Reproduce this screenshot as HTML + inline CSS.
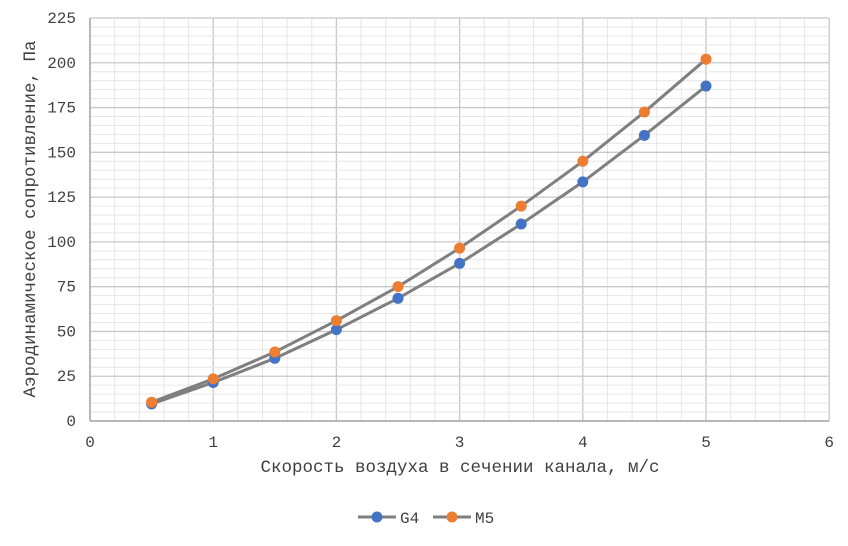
<!DOCTYPE html>
<html><head><meta charset="utf-8"><style>
body{margin:0;background:#fff}
svg text{font-family:"Liberation Mono","DejaVu Sans Mono",monospace;fill:#404040}
</style></head><body>
<svg id="s" width="848" height="541" xmlns="http://www.w3.org/2000/svg"></svg>
<script>
const s=document.getElementById('s');let h='';
const X=v=>90+123.2*v, Y=v=>421-403/225*v;
for(let i=0;i<=30;i++){const x=X(i/5);h+=`<line x1="${x}" y1="18" x2="${x}" y2="421" stroke="${i%5?'#e6e6e6':'#c8c8c8'}" stroke-width="${i%5?1:1.3}"/>`;}
for(let i=0;i<=45;i++){const y=Y(i*5);h+=`<line x1="90" y1="${y}" x2="829" y2="${y}" stroke="${i%5?'#e6e6e6':'#c8c8c8'}" stroke-width="${i%5?1:1.3}"/>`;}
h+=`<line x1="90" y1="18" x2="90" y2="421" stroke="#a6a6a6" stroke-width="1.5"/><line x1="90" y1="421" x2="829" y2="421" stroke="#a6a6a6" stroke-width="1.5"/>`;
for(let i=0;i<=6;i++)h+=`<text x="${X(i)}" y="447" font-size="16" text-anchor="middle">${i}</text>`;
for(let i=0;i<=9;i++)h+=`<text x="76" y="${Y(i*25)+5}" font-size="16" text-anchor="end">${i*25}</text>`;
h+=`<text x="460" y="472" font-size="17.5" text-anchor="middle">Скорость воздуха в сечении канала, м/с</text>`;
h+=`<text transform="translate(35,219) rotate(-90)" font-size="17.5" text-anchor="middle">Аэродинамическое сопротивление, Па</text>`;
const xs=[0.5,1,1.5,2,2.5,3,3.5,4,4.5,5];
const g4=[9.5,21.5,35,51,68.5,88,110,133.5,159.5,187];
const m5=[10.5,23.5,38.5,56,75,96.5,120,145,172.5,202];
function ser(d,c){let p=xs.map((x,i)=>X(x)+','+Y(d[i])).join(' ');
h+=`<polyline points="${p}" fill="none" stroke="#7f7f7f" stroke-width="3"/>`;
return ()=>xs.forEach((x,i)=>h+=`<circle cx="${X(x)}" cy="${Y(d[i])}" r="5.5" fill="${c}"/>`);}
const a=ser(g4,'#4472c4'),b=ser(m5,'#ed7d31');a();b();
h+=`<line x1="358" y1="517" x2="396" y2="517" stroke="#7f7f7f" stroke-width="3"/><circle cx="377" cy="517" r="5.5" fill="#4472c4"/><text x="400" y="523" font-size="16">G4</text>`;
h+=`<line x1="433" y1="517" x2="471" y2="517" stroke="#7f7f7f" stroke-width="3"/><circle cx="452" cy="517" r="5.5" fill="#ed7d31"/><text x="475" y="523" font-size="16">M5</text>`;
s.innerHTML=h;
</script>
</body></html>
